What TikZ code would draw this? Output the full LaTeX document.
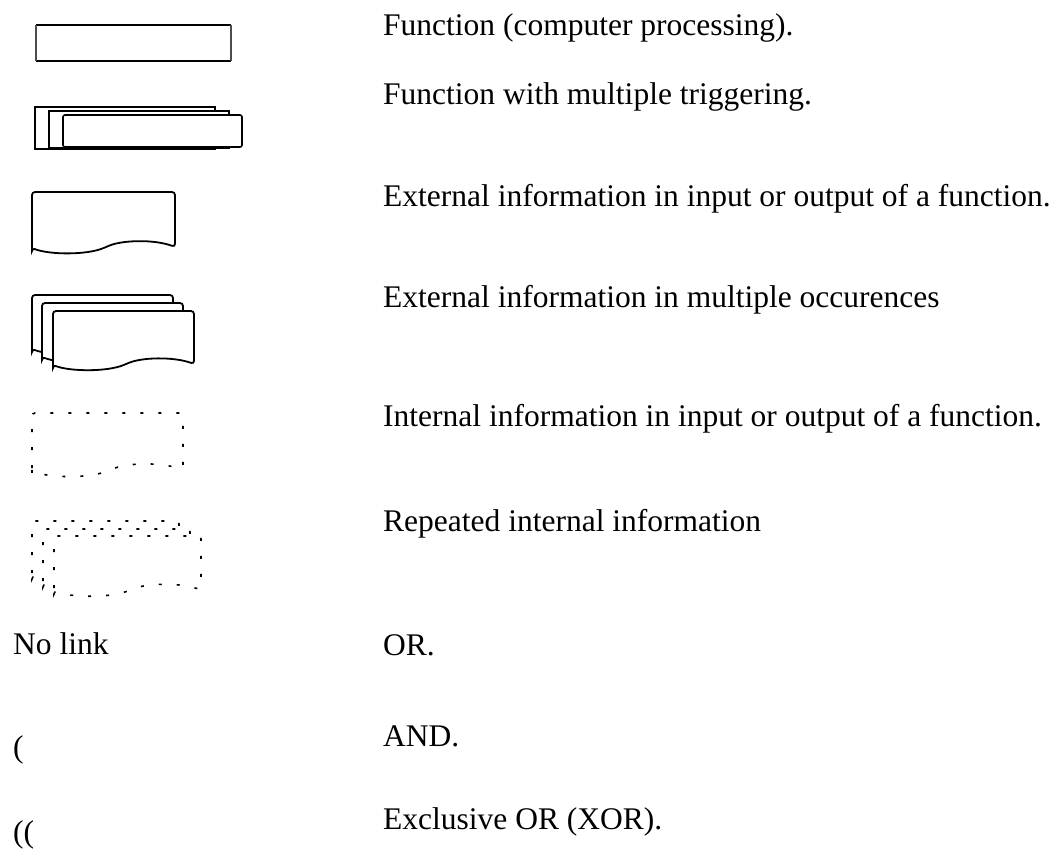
\documentclass[tikz,border=0pt]{standalone}
\usepackage{fontspec}
\setmainfont{Liberation Serif}
\newcommand\docpathunit{(0,1) -- (0,0) -- (1,0) -- (1,0.98) .. controls (0.85,0.84) and (0.63,0.86) .. (0.52,0.98) .. controls (0.38,1.13) and (0.12,1.12) .. cycle}
\newcommand\docshape[5]{%
  \begin{scope}[shift={(#1,#2)},xscale=#3,yscale=#4]
    \path[#5] \docpathunit;
  \end{scope}}
\tikzset{
  lbl/.style={anchor=base west, inner sep=0pt, font=\fontsize{31.5}{36}\selectfont},
  solidline/.style={draw=black, fill=white, line width=1.8pt, rounded corners=3pt},
  dotline/.style={draw=black, fill=white, line width=1.6pt, dash pattern=on 3pt off 15pt, rounded corners=3pt},
  fnthick/.style={line width=2pt, black},
  fnthin/.style={line width=1.2pt, black!70},
}
\begin{document}
\begin{tikzpicture}[x=1pt,y=-1pt]
\useasboundingbox[fill=white] (0,0) rectangle (1061,855);

% 1. Function
\draw[fnthick] (36,25) -- (231,25);
\draw[fnthick] (36,61) -- (231,61);
\draw[fnthin] (36,25) -- (36,61);
\draw[fnthin] (231,25) -- (231,61);

% 2. Function with multiple triggering
\draw[line width=1.8pt, fill=white] (35,107) rectangle (215,149);
\draw[line width=1.6pt, fill=white] (49,111) rectangle (229,148);
\draw[line width=1.6pt, fill=white, rounded corners=2pt] (63,115) rectangle (242,147);

% 3. External information
\docshape{32}{192}{143}{56}{solidline}

% 4. External information multiple
\docshape{32}{295}{141}{54}{solidline}
\docshape{42}{303}{141}{54}{solidline}
\docshape{53}{311}{141}{54}{solidline}

% 5. Internal information
\docshape{32}{413}{151}{58}{dotline}

% 6. Repeated internal information
\docshape{32}{521}{147}{55}{dotline}
\docshape{43}{529}{147}{55}{dotline}
\docshape{54}{536}{147}{55}{dotline}

% texts
\node[lbl] (t1) at (383,35) {Function (computer processing).};
\node[lbl] (t2) at (383,104) {Function with multiple triggering.};
\node[lbl] (t3) at (383,206) {External information in input or output of a function.};
\node[lbl] (t4) at (383,307) {External information in multiple occurences};
\node[lbl] (t5) at (383,426) {Internal information in input or output of a function.};
\node[lbl] (t6) at (383,531) {Repeated internal information};
\node[lbl] (nolink) at (13,654) {No link};
\node[lbl] (t7) at (383,655) {OR.};
\node[lbl] (and) at (13,757) {(};
\node[lbl] (t8) at (383,746) {AND.};
\node[lbl] (xor) at (13,842) {((};
\node[lbl] (t9) at (383,829) {Exclusive OR (XOR).};
\end{tikzpicture}
\end{document}
